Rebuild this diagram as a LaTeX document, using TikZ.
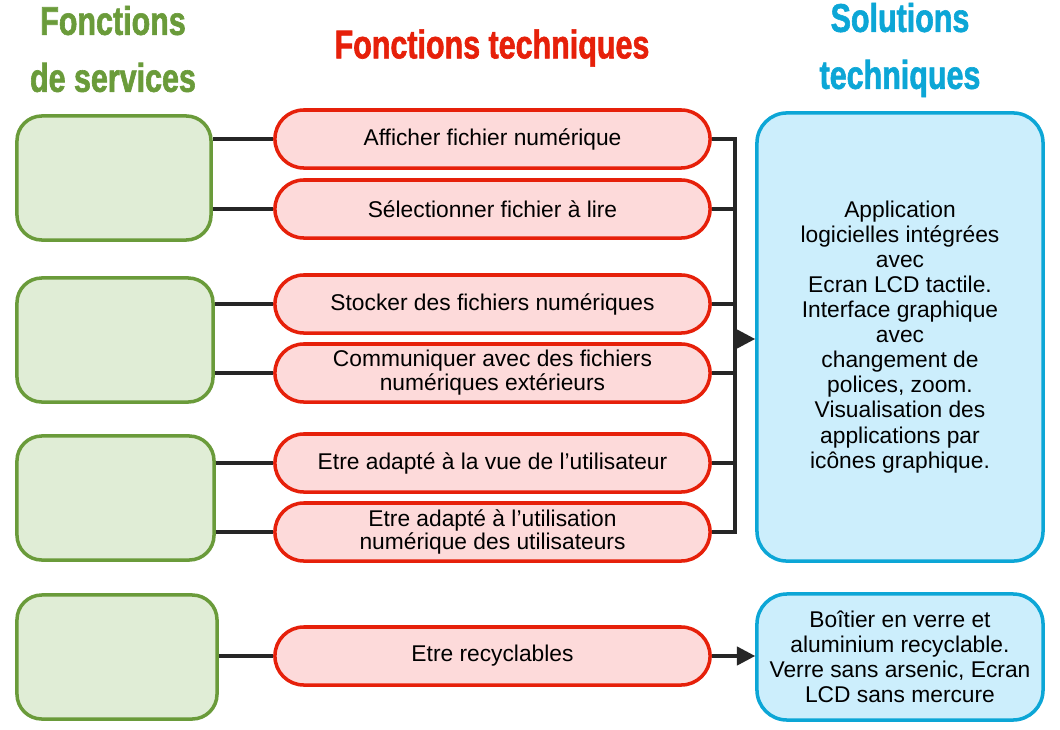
\documentclass[tikz,border=0pt]{standalone}
\usepackage{fontspec}
\setmainfont{Liberation Sans}
\newfontfamily\headfont[FakeStretch=0.76,FakeBold=1.5]{Liberation Sans Bold}
\usepackage{xcolor}
\usetikzlibrary{arrows.meta}

\definecolor{srvline}{RGB}{106,155,58}
\definecolor{srvfill}{RGB}{224,237,214}
\definecolor{ftline}{RGB}{230,32,10}
\definecolor{ftfill}{RGB}{253,218,218}
\definecolor{solline}{RGB}{12,166,214}
\definecolor{solfill}{RGB}{204,238,252}

\begin{document}
\begin{tikzpicture}[
  x=0.025cm, y=-0.025cm,
  heading/.style={align=center, font=\headfont\fontsize{28.5pt}{40.5pt}\selectfont},
  service/.style={rectangle, draw=srvline, fill=srvfill, line width=2.5pt, rounded corners=0.62cm, minimum height=3.1cm},
  fonction/.style={rectangle, draw=ftline, fill=ftfill, line width=2.5pt, rounded corners=0.72cm, align=center, font=\fontsize{16.2pt}{17pt}\selectfont, minimum width=10.875cm, minimum height=1.45cm, inner sep=0pt},
  solution/.style={rectangle, draw=solline, fill=solfill, line width=2.5pt, rounded corners=0.75cm, align=center, font=\fontsize{16.2pt}{17.8pt}\selectfont, minimum width=7.15cm, inner sep=0pt},
  link/.style={line width=2.5pt, draw=black!85},
  arrow/.style={link, -{Triangle[length=13pt,width=13pt]}}
]
  \useasboundingbox (0,0) rectangle (1060,730);

  % Headings
  \node[heading, text=srvline] (hsrv) at (113,49) {Fonctions\\de services};
  \node[heading, text=ftline] (hft) at (492,48) {Fonctions techniques};
  \node[heading, text=solline] (hsol) at (900,50) {Solutions\\techniques};

  % Fonctions de services
  \node[service, minimum width=4.85cm] (s1) at (114,178) {};
  \node[service, minimum width=4.9cm] (s2) at (115,340) {};
  \node[service, minimum width=4.925cm] (s3) at (115.5,498) {};
  \node[service, minimum width=5cm] (s4) at (117,657) {};

  % Fonctions techniques
  \node[fonction] (f1) at (492.5,139) {Afficher fichier numérique};
  \node[fonction] (f2) at (492.5,209) {Sélectionner fichier à lire};
  \node[fonction] (f3) at (492.5,304) {Stocker des fichiers numériques};
  \node[fonction] (f4) at (492.5,373) {Communiquer avec des fichiers\\numériques extérieurs};
  \node[fonction] (f5) at (492.5,463) {Etre adapté à la vue de l’utilisateur};
  \node[fonction] (f6) at (492.5,532) {Etre adapté à l’utilisation\\numérique des utilisateurs};
  \node[fonction] (f7) at (492.5,656) {Etre recyclables};

  % Solutions techniques
  \node[solution, minimum height=11.2cm] (sol1) at (900,337) {Application\\logicielles intégrées\\avec\\Ecran LCD tactile.\\Interface graphique\\avec\\changement de\\polices, zoom.\\Visualisation des\\applications par\\icônes graphique.};
  \node[solution, minimum height=3.15cm] (sol2) at (900,657) {Boîtier en verre et\\aluminium recyclable.\\Verre sans arsenic, Ecran\\LCD sans mercure};

  \coordinate (bus) at (735,339);

  % Links
  \draw[link] (s1.east |- f1) -- (f1);
  \draw[link] (s1.east |- f2) -- (f2);
  \draw[link] (s2.east |- f3) -- (f3);
  \draw[link] (s2.east |- f4) -- (f4);
  \draw[link] (s3.east |- f5) -- (f5);
  \draw[link] (s3.east |- f6) -- (f6);
  \draw[link] (s4.east |- f7) -- (f7);
  \foreach \f in {f1,f2,f3,f4,f5,f6}
    \draw[link] (\f.east) -- (\f.east -| bus);
  \draw[link, line cap=rect] (f1.east -| bus) -- (f6.east -| bus);

  % Arrows
  \draw[arrow] (bus) -- (bus -| sol1.west);
  \draw[arrow] (f7.east) -- (f7.east -| sol2.west);
\end{tikzpicture}
\end{document}
